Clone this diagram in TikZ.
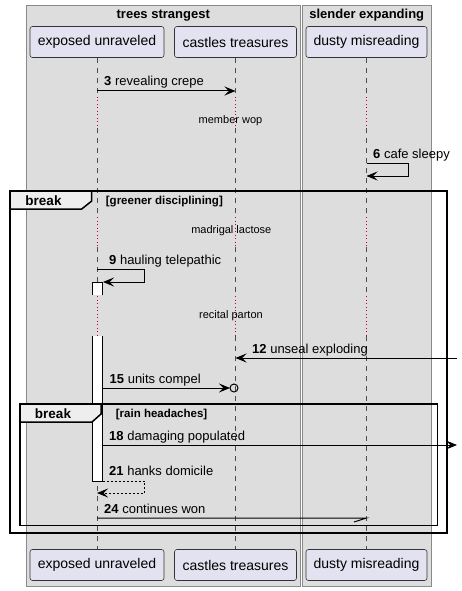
\documentclass[tikz,border=0pt]{standalone}
\usepackage{fontspec}
\setmainfont{Liberation Sans}
\usetikzlibrary{arrows.meta,calc}
\definecolor{grpfill}{HTML}{DDDDDD}
\definecolor{grpline}{HTML}{8A8A8A}
\definecolor{partfill}{HTML}{E2E2F0}
\definecolor{partline}{HTML}{333333}
\definecolor{tabfill}{HTML}{EEEEEE}
\definecolor{delaycol}{HTML}{C0003C}
\newcommand\mylifeline[2]{%
  \draw[life] (#1.south) -- (#1.south |- 0,97);
  \draw[delayl] (#1.south |- 0,97) -- (#1.south |- 0,128);
  \draw[life] (#1.south |- 0,128) -- (#1.south |- 0,217);
  \draw[delayl] (#1.south |- 0,217) -- (#1.south |- 0,247);
  \draw[life] (#1.south |- 0,247) -- (#1.south |- 0,296);
  \draw[delayl] (#1.south |- 0,296) -- (#1.south |- 0,336);
  \draw[life] (#1.south |- 0,336) -- (#2.north);
}
\begin{document}
\begin{tikzpicture}[x=1pt,y=-1pt,
  grp/.style={draw=grpline,fill=grpfill,line width=1pt},
  grptitle/.style={font=\fontsize{13}{15}\selectfont\bfseries,anchor=base,inner sep=0pt},
  part/.style={draw=partline,fill=partfill,line width=0.6pt,rounded corners=2.5pt,
    minimum height=31pt,inner sep=0pt,font=\fontsize{14}{16}\selectfont},
  life/.style={draw=black!70,line width=0.6pt,dash pattern=on 5pt off 5pt},
  delayl/.style={draw=delaycol,line width=1pt,dash pattern=on 1pt off 2.5pt},
  delaytxt/.style={font=\fontsize{11}{13}\selectfont,inner sep=0pt},
  msg/.style={draw=black,line width=1pt,-{Stealth[length=11pt,width=9pt,inset=4.5pt]}},
  msgd/.style={msg,dash pattern=on 2pt off 2pt},
  plain/.style={draw=black,line width=1pt},
  lbl/.style={font=\fontsize{13}{15}\selectfont,anchor=base west,inner sep=0pt},
  frame/.style={draw=black,line width=1.5pt},
  tabbox/.style={draw=black,fill=tabfill,line width=1.5pt,line join=miter},
  tabtxt/.style={font=\fontsize{13.5}{15}\selectfont\bfseries,anchor=base,inner sep=0pt},
  cond/.style={font=\fontsize{11.5}{13}\selectfont\bfseries,anchor=base west,inner sep=0pt},
  actbox/.style={draw=black,line width=1pt}
]
\useasboundingbox (0,0) rectangle (462,591);
\fill[white] (0,0) rectangle (462,591);

% groups
\draw[grp] (26.5,6) rectangle (300,586.5);
\draw[grp] (302,6) rectangle (431.5,586.5);
\node[grptitle] (g1) at (163.25,18.5) {trees strangest};
\node[grptitle] (g2) at (366.75,18.5) {slender expanding};

% participants
\node[part,minimum width=134pt] (eT) at (97,42) {exposed unraveled};
\node[part,minimum width=122pt] (cT) at (235.5,42) {castles treasures};
\node[part,minimum width=121pt] (dT) at (366.5,42) {dusty misreading};
\node[part,minimum width=134pt] (eB) at (97,565) {exposed unraveled};
\node[part,minimum width=122pt] (cB) at (235.5,565) {castles treasures};
\node[part,minimum width=121pt] (dB) at (366.5,565) {dusty misreading};

% lifelines
\mylifeline{eT}{eB}
\mylifeline{cT}{cB}
\mylifeline{dT}{dB}

% delay texts
\node[delaytxt] (d1) at (230.5,121) {member wop};
\node[delaytxt] (d2) at (231.3,231) {madrigal lactose};
\node[delaytxt] (d3) at (231,316) {recital parton};

% activations
\fill[white] (92.5,282) rectangle (102.5,295);
\draw[actbox] (92.5,295) -- (92.5,282) -- (102.5,282) -- (102.5,295);
\fill[white] (92.5,336) rectangle (102.5,481);
\draw[actbox] (92.5,336) -- (92.5,481) -- (102.5,481) -- (102.5,336);

% frames
\draw[frame] (10,191) rectangle (447,533);
\filldraw[tabbox] (10,191) -- (91.7,191) -- (91.7,201) -- (81.7,209) -- (10,209) -- cycle;
\node[tabtxt] (t1) at (43.5,205.5) {break};
\node[cond] (c1) at (105.7,204.5) {[greener disciplining]};

\draw[frame] (20,404) rectangle (437.5,525.7);
\filldraw[tabbox] (20,404) -- (101,404) -- (101,414) -- (92,422) -- (20,422) -- cycle;
\node[tabtxt] (t2) at (53,418) {break};
\node[cond] (c2) at (115.7,417.5) {[rain headaches]};

% message endpoints
\coordinate (m3a) at (eT.south |- 0,91);
\coordinate (m3b) at (cT.south |- 0,91);
\coordinate (m6a) at (dT.south |- 0,163);
\coordinate (m6b) at (dT.south |- 0,176);
\coordinate (m9a) at (eT.south |- 0,269);
\coordinate (m9b) at (103,282);
\coordinate (m12a) at (457,358);
\coordinate (m12b) at (cT.south |- 0,358);
\coordinate (m15a) at (102.5,388);
\coordinate (m15b) at (230,388);
\coordinate (m18a) at (102.5,445);
\coordinate (m18b) at (457,445);
\coordinate (m21a) at (102.5,481);
\coordinate (m21b) at (eT.south |- 0,493);
\coordinate (m24a) at (eT.south |- 0,518);
\coordinate (m24b) at (dT.south |- 0,518);

% messages
\draw[msg] (m3a) -- (m3b);
\node[lbl] at (104,86) {\textbf{3} revealing crepe};

\draw[msg] (m6a) -- (408,163) -- (408,176) -- (m6b);
\node[lbl] at (373,158) {\textbf{6} cafe sleepy};

\draw[msg] (m9a) -- (144.5,269) -- (144.5,282) -- (m9b);
\node[lbl] at (109,264) {\textbf{9} hauling telepathic};

\draw[msg] (m12a) -- (m12b);
\node[lbl] at (252,353) {\textbf{12} unseal exploding};

\draw[msg] (m15a) -- (m15b);
\draw[plain] (234,388) circle[radius=4pt];
\node[lbl] at (109.5,383) {\textbf{15} units compel};

\draw[msg] (m18a) -- (m18b);
\node[lbl] at (109,440) {\textbf{18} damaging populated};

\draw[msgd] (m21a) -- (144.5,481) -- (144.5,493) -- (m21b);
\node[lbl] at (109,475) {\textbf{21} hanks domicile};

\draw[plain] (m24a) -- (m24b) -- ++(-12.5,4);
\node[lbl] at (104,513) {\textbf{24} continues won};
\end{tikzpicture}
\end{document}
